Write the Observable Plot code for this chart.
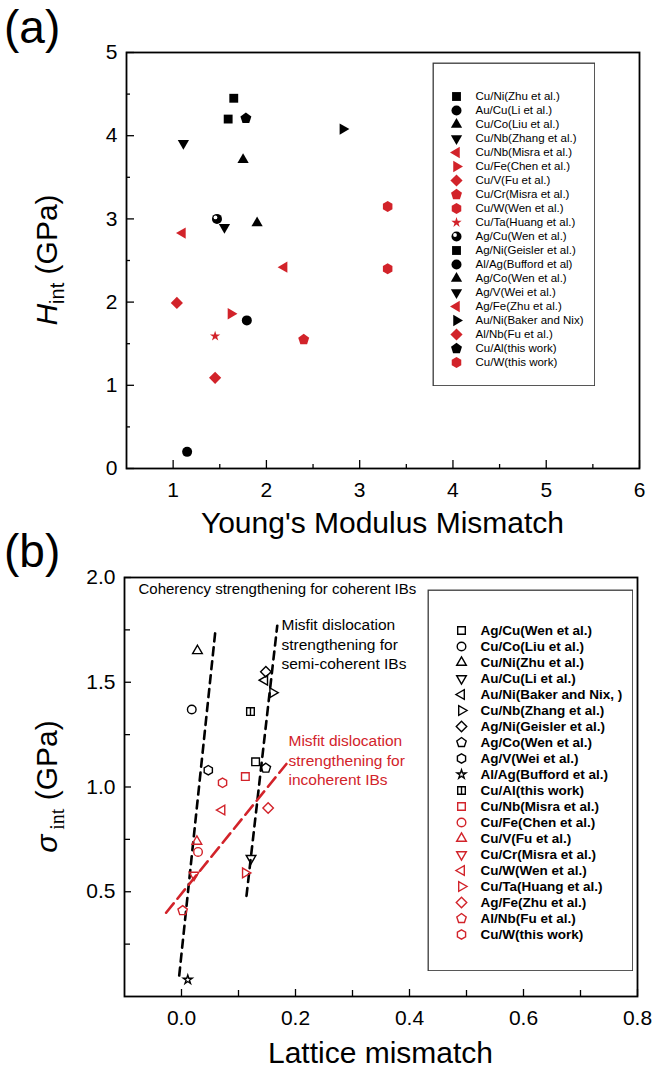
<!DOCTYPE html>
<html>
<head>
<meta charset="utf-8">
<script src="https://cdn.jsdelivr.net/npm/d3@7"></script>
<script src="https://cdn.jsdelivr.net/npm/@observablehq/plot@0.6"></script>
<style>
  html, body { margin: 0; padding: 0; background: #fff; }
  #wrap { position: relative; width: 654px; height: 1068px; overflow: hidden; }
  #wrap > * { position: absolute; }
</style>
</head>
<body>
<div id="wrap"></div>
<script>
// ---------------- Panel (a) data ----------------
const legendA = ["Cu/Ni(Zhu et al.)","Au/Cu(Li et al.)","Cu/Co(Liu et al.)","Cu/Nb(Zhang et al.)","Cu/Nb(Misra et al.)","Cu/Fe(Chen et al.)","Cu/V(Fu et al.)","Cu/Cr(Misra et al.)","Cu/W(Wen et al.)","Cu/Ta(Huang et al.)","Ag/Cu(Wen et al.)","Ag/Ni(Geisler et al.)","Al/Ag(Bufford et al)","Ag/Co(Wen et al.)","Ag/V(Wei et al.)","Ag/Fe(Zhu et al.)","Au/Ni(Baker and Nix)","Al/Nb(Fu et al.)","Cu/Al(this work)","Cu/W(this work)"];
const shapeA = ["square","circle","triUp","triDown","triLeft","triRight","diamond","pentagon","hexagon","star","halfCircle","square","circle","triUp","triDown","triLeft","triRight","diamond","pentagon","hexagon"];
const colorA = ["k","k","k","k","r","r","r","r","r","r","k","k","k","k","k","r","k","r","k","r"];
const modulusMismatch = [1.65,1.79,1.90,1.11,1.10,1.62,1.45,2.40,3.30,1.45,1.47,1.59,1.15,1.75,1.55,2.19,2.82,1.04,1.78,3.30];
const hardness       = [4.45,1.78,2.95,3.91,2.83,1.86,1.09,1.55,3.15,1.59,3.00,4.20,0.20,3.71,2.90,2.42,4.08,1.99,4.21,2.40];
const xTicksA = [1,2,3,4,5,6];
const xMinorA = [1.5,2.5,3.5,4.5,5.5];
const yTicksA = [0,1,2,3,4,5];
const yMinorA = [0.5,1.5,2.5,3.5,4.5];

// ---------------- Panel (b) data ----------------
const legendB = ["Ag/Cu(Wen et al.)","Cu/Co(Liu et al.)","Cu/Ni(Zhu et al.)","Au/Cu(Li et al.)","Au/Ni(Baker and Nix, )","Cu/Nb(Zhang et al.)","Ag/Ni(Geisler et al.)","Ag/Co(Wen et al.)","Ag/V(Wei et al.)","Al/Ag(Bufford et al.)","Cu/Al(this work)","Cu/Nb(Misra et al.)","Cu/Fe(Chen et al.)","Cu/V(Fu et al.)","Cu/Cr(Misra et al.)","Cu/W(Wen et al.)","Cu/Ta(Huang et al.)","Ag/Fe(Zhu et al.)","Al/Nb(Fu et al.)","Cu/W(this work)"];
const shapeB = ["square","circle","triUp","triDown","triLeft","triRight","diamond","pentagon","hexagon","star","squareBar","square","circle","triUp","triDown","triLeft","triRight","diamond","pentagon","hexagon"];
const colorB = ["k","k","k","k","k","k","k","k","k","k","k","r","r","r","r","r","r","r","r","r"];
const latticeMismatch = [0.130,0.018,0.028,0.122,0.146,0.160,0.148,0.148,0.047,0.011,0.121,0.112,0.029,0.027,0.022,0.071,0.112,0.152,0.002,0.072];
const strength        = [1.12,1.37,1.65,0.66,1.51,1.45,1.55,1.09,1.08,0.08,1.36,1.05,0.69,0.74,0.58,0.89,0.59,0.90,0.41,1.02];
const xTicksB = [0,0.2,0.4,0.6,0.8];
const xMinorB = [0.1,0.3,0.5,0.7];
const yTicksB = [0.5,1.0,1.5,2.0];
const yMinorB = [0.25,0.75,1.25,1.75];

// guide lines (dashed) in panel (b)
const fitGroup = ["coherent","coherent","semi","semi","incoherent","incoherent"];
const fitX     = [-0.004, 0.060, 0.114, 0.168, -0.027, 0.184];
const fitY     = [0.10, 1.76, 0.48, 1.77, 0.40, 1.11];

const annotB1 = "Coherency strengthening for coherent IBs";
const annotB2 = "Misfit dislocation\nstrengthening for\nsemi-coherent IBs";
const annotB3 = "Misfit dislocation\nstrengthening for\nincoherent IBs";

// ---------------- styling ----------------
const RED = "#d2232a", BLACK = "#000000";
const COL = {k: BLACK, r: RED};
const FONT = '"Liberation Sans", Arial, Helvetica, sans-serif';

function poly(n, rot, k) {
  return {draw(ctx, size) {
    const r = Math.sqrt(size / Math.PI) * k;
    for (let i = 0; i < n; ++i) {
      const a = rot + i * 2 * Math.PI / n;
      const px = r * Math.cos(a), py = r * Math.sin(a);
      if (i === 0) ctx.moveTo(px, py); else ctx.lineTo(px, py);
    }
    ctx.closePath();
  }};
}
const squareBar = {draw(ctx, size) {
  const s = Math.sqrt(size) / 2;
  ctx.moveTo(-s, -s); ctx.lineTo(s, -s); ctx.lineTo(s, s); ctx.lineTo(-s, s); ctx.closePath();
  ctx.moveTo(0, -s); ctx.lineTo(0, s);
}};
const smallStar = {draw(ctx, size) { d3.symbolStar.draw(ctx, size * 0.42); }};
const SYMBOLS = {
  square: "square", circle: "circle", halfCircle: "circle", star: smallStar,
  triUp: poly(3, -Math.PI / 2, 1.3), triDown: poly(3, Math.PI / 2, 1.3),
  triLeft: poly(3, Math.PI, 1.3), triRight: poly(3, 0, 1.3),
  diamond: poly(4, -Math.PI / 2, 1.22), pentagon: poly(5, -Math.PI / 2, 1.15),
  hexagon: poly(6, -Math.PI / 2, 1.1), squareBar
};

function symbolMarks(data, {x, y, r, hollow, frameAnchor, dx = 0}) {
  const marks = [];
  const shapes = [...new Set(data.map(d => d.shape))];
  for (const s of shapes) {
    const sub = data.filter(d => d.shape === s);
    marks.push(Plot.dot(sub, {
      x, y, r, frameAnchor, dx,
      symbol: SYMBOLS[s],
      fill: hollow ? "none" : d => d.color,
      stroke: hollow ? d => d.color : "none",
      strokeWidth: hollow ? 1.4 : 0
    }));
    if (s === "halfCircle") {
      marks.push(Plot.dot(sub, {x, y, r: r * 0.38, fill: "white", stroke: "none", frameAnchor, dx: dx - r * 0.3, dy: -r * 0.3}));
    }
  }
  return marks;
}

function legendChart(labels, shapes, colors, opt) {
  const data = labels.map((label, i) => ({label, shape: shapes[i], color: COL[colors[i]]}));
  return Plot.plot({
    width: opt.width, height: opt.height, margin: 0,
    style: {fontFamily: FONT, background: "white", color: "black"},
    y: {type: "point", domain: labels, range: [opt.first, opt.first + opt.step * (labels.length - 1)], axis: null},
    color: {type: "identity"},
    marks: [
      Plot.frame({stroke: "#3a3a3a", strokeWidth: 1.3, inset: 0.7}),
      ...symbolMarks(data, {y: "label", r: opt.r, hollow: opt.hollow, frameAnchor: "left", dx: opt.symX}),
      Plot.text(data, {y: "label", text: "label", frameAnchor: "left", dx: opt.textX, textAnchor: "start",
        fontSize: opt.fontSize, fontWeight: opt.fontWeight, fill: "black"})
    ]
  });
}

const wrap = document.getElementById("wrap");

// ---------------- Panel (a) ----------------
const pointsA = legendA.map((name, i) => ({name, shape: shapeA[i], color: COL[colorA[i]], x: modulusMismatch[i], y: hardness[i]}));
const A = {w: 654, h: 540, ml: 126, mr: 15, mt: 52, mb: 72};
const innerWA = A.w - A.ml - A.mr, innerHA = A.h - A.mt - A.mb;
const plotA = Plot.plot({
  width: A.w, height: A.h, marginLeft: A.ml, marginRight: A.mr, marginTop: A.mt, marginBottom: A.mb,
  style: {fontFamily: FONT, fontSize: "21px", color: "black", background: "transparent", overflow: "visible"},
  x: {domain: [0.5, 6]}, y: {domain: [0, 5]}, color: {type: "identity"},
  marks: [
    Plot.tickX(xTicksA, {x: d => d, insetTop: innerHA - 8, stroke: "black", strokeWidth: 1.3}),
    Plot.tickX(xMinorA, {x: d => d, insetTop: innerHA - 4, stroke: "black", strokeWidth: 1.3}),
    Plot.tickY(yTicksA, {y: d => d, insetRight: innerWA - 8, stroke: "black", strokeWidth: 1.3}),
    Plot.tickY(yMinorA, {y: d => d, insetRight: innerWA - 4, stroke: "black", strokeWidth: 1.3}),
    Plot.axisX(xTicksA, {tickSize: 0, tickPadding: 14, label: null, fontSize: 21, tickFormat: d => String(d)}),
    Plot.axisY(yTicksA, {tickSize: 0, tickPadding: 9, label: null, fontSize: 21, tickFormat: d => String(d)}),
    Plot.frame({stroke: "black", strokeWidth: 1.8}),
    ...symbolMarks(pointsA, {x: "x", y: "y", r: 5, hollow: false})
  ]
});
plotA.style.left = "0px"; plotA.style.top = "0px";
wrap.appendChild(plotA);
{
  const s = d3.select(plotA);
  s.append("text").attr("x", 4).attr("y", 43).attr("text-anchor", "start").attr("font-family", FONT).attr("font-size", 46).attr("fill", "black").text("(a)");
  s.append("text").attr("x", A.ml + innerWA / 2).attr("y", 533).attr("text-anchor", "middle")
    .attr("font-family", FONT).attr("font-size", 30).attr("fill", "black").text("Young's Modulus Mismatch");
  const t = s.append("text").attr("transform", `translate(57,${A.mt + innerHA / 2}) rotate(-90)`)
    .attr("text-anchor", "middle").attr("font-family", FONT).attr("font-size", 30).attr("fill", "black");
  t.append("tspan").attr("font-style", "italic").text("H");
  t.append("tspan").attr("font-size", 20).attr("dy", 7).text("int");
  t.append("tspan").attr("dy", -7).text(" (GPa)");
}

const legA = legendChart(legendA, shapeA, colorA, {width: 163, height: 324, first: 24, step: 15.1, r: 5, hollow: false, symX: 24, textX: 43, fontSize: 11.5, fontWeight: "normal"});
legA.style.left = "432px"; legA.style.top = "62px";
wrap.appendChild(legA);

// ---------------- Panel (b) ----------------
const pointsB = legendB.map((name, i) => ({name, shape: shapeB[i], color: COL[colorB[i]], x: latticeMismatch[i], y: strength[i]}));
const fitData = fitGroup.map((g, i) => ({group: g, x: fitX[i], y: fitY[i]}));
const B = {w: 654, h: 528, ml: 124, mr: 17, mt: 37, mb: 72, top: 540};
const innerWB = B.w - B.ml - B.mr, innerHB = B.h - B.mt - B.mb;
const plotB = Plot.plot({
  width: B.w, height: B.h, marginLeft: B.ml, marginRight: B.mr, marginTop: B.mt, marginBottom: B.mb,
  style: {fontFamily: FONT, fontSize: "21px", color: "black", background: "transparent", overflow: "visible"},
  x: {domain: [-0.1, 0.8]}, y: {domain: [0, 2]}, color: {type: "identity"},
  marks: [
    Plot.tickX(xTicksB, {x: d => d, insetTop: innerHB - 7, stroke: "black", strokeWidth: 1.3}),
    Plot.tickX(xMinorB, {x: d => d, insetTop: innerHB - 6, stroke: "black", strokeWidth: 1.3}),
    Plot.tickY(yTicksB, {y: d => d, insetRight: innerWB - 7, stroke: "black", strokeWidth: 1.3}),
    Plot.tickY(yMinorB, {y: d => d, insetRight: innerWB - 6, stroke: "black", strokeWidth: 1.3}),
    Plot.axisX(xTicksB, {tickSize: 0, tickPadding: 14, label: null, fontSize: 21, tickFormat: d3.format(".1f")}),
    Plot.axisY(yTicksB, {tickSize: 0, tickPadding: 9, label: null, fontSize: 21, tickFormat: d3.format(".1f")}),
    Plot.frame({stroke: "black", strokeWidth: 1.8}),
    Plot.line(fitData.filter(d => d.group !== "incoherent"), {x: "x", y: "y", z: "group", stroke: "black", strokeWidth: 2.6, strokeDasharray: "8,6"}),
    Plot.line(fitData.filter(d => d.group === "incoherent"), {x: "x", y: "y", stroke: RED, strokeWidth: 2.6, strokeDasharray: "12,6"}),
    ...symbolMarks(pointsB, {x: "x", y: "y", r: 4.3, hollow: true}),
    Plot.text([annotB1], {frameAnchor: "top-left", dx: 14, dy: 12, textAnchor: "start", lineAnchor: "middle", fontSize: 15, fill: "black"}),
    Plot.text([annotB2], {frameAnchor: "top-left", dx: 157, dy: 66, textAnchor: "start", lineAnchor: "middle", fontSize: 15.5, lineHeight: 1.245, fill: "black"}),
    Plot.text([annotB3], {frameAnchor: "top-left", dx: 164, dy: 182, textAnchor: "start", lineAnchor: "middle", fontSize: 15.5, lineHeight: 1.245, fill: RED})
  ]
});
plotB.style.left = "0px"; plotB.style.top = B.top + "px";
wrap.appendChild(plotB);
{
  const s = d3.select(plotB);
  s.append("text").attr("x", 4).attr("y", 567 - B.top).attr("text-anchor", "start").attr("font-family", FONT).attr("font-size", 46).attr("fill", "black").text("(b)");
  s.append("text").attr("x", B.ml + innerWB / 2).attr("y", 1063 - B.top).attr("text-anchor", "middle")
    .attr("font-family", FONT).attr("font-size", 30).attr("fill", "black").text("Lattice mismatch");
  const t = s.append("text").attr("transform", `translate(57,${B.mt + innerHB / 2}) rotate(-90)`)
    .attr("text-anchor", "middle").attr("font-family", FONT).attr("font-size", 30).attr("fill", "black");
  t.append("tspan").attr("font-style", "italic").text("σ");
  t.append("tspan").attr("font-size", 20).attr("dy", 7).attr("font-family", '"Liberation Serif", "Times New Roman", serif').text(" int");
  t.append("tspan").attr("dy", -7).text(" (GPa)");
}

const legB = legendChart(legendB, shapeB, colorB, {width: 206, height: 382, first: 28, step: 17.37, r: 4.3, hollow: true, symX: 34, textX: 53, fontSize: 13.5, fontWeight: "bold"});
legB.style.left = "427px"; legB.style.top = "589px";
wrap.appendChild(legB);
</script>
</body>
</html>
